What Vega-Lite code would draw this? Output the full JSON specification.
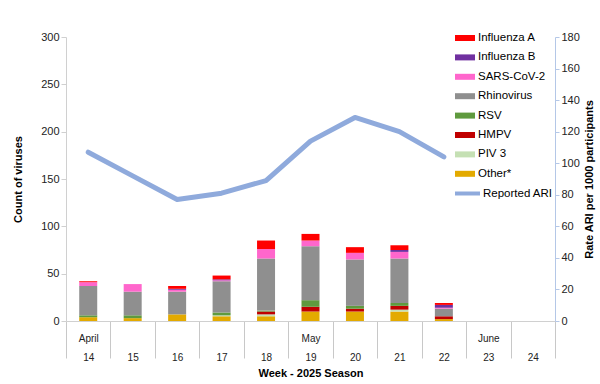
{
  "$schema": "https://vega.github.io/schema/vega-lite/v6.json",
  "width": 489,
  "height": 284,
  "autosize": "none",
  "padding": {"left": 66, "top": 37, "right": 45, "bottom": 63},
  "background": "white",
  "config": {
    "view": {"stroke": null},
    "font": "Liberation Sans",
    "axis": {"labelFont": "Liberation Sans", "titleFont": "Liberation Sans", "labelColor": "#222222", "titleColor": "#000000", "grid": false},
    "legend": {"labelFont": "Liberation Sans"}
  },
  "datasets": {
    "viruses": [
      {"week": "14", "virus": "Other*", "count": 4},
      {"week": "14", "virus": "RSV", "count": 2},
      {"week": "14", "virus": "Rhinovirus", "count": 31},
      {"week": "14", "virus": "SARS-CoV-2", "count": 4},
      {"week": "14", "virus": "Influenza A", "count": 1},
      {"week": "15", "virus": "Other*", "count": 3},
      {"week": "15", "virus": "RSV", "count": 3},
      {"week": "15", "virus": "Rhinovirus", "count": 25},
      {"week": "15", "virus": "SARS-CoV-2", "count": 8},
      {"week": "16", "virus": "Other*", "count": 7},
      {"week": "16", "virus": "Rhinovirus", "count": 24},
      {"week": "16", "virus": "SARS-CoV-2", "count": 2},
      {"week": "16", "virus": "Influenza B", "count": 1},
      {"week": "16", "virus": "Influenza A", "count": 3},
      {"week": "17", "virus": "Other*", "count": 5},
      {"week": "17", "virus": "PIV 3", "count": 1},
      {"week": "17", "virus": "RSV", "count": 3},
      {"week": "17", "virus": "Rhinovirus", "count": 33},
      {"week": "17", "virus": "SARS-CoV-2", "count": 1},
      {"week": "17", "virus": "Influenza B", "count": 1},
      {"week": "17", "virus": "Influenza A", "count": 4},
      {"week": "18", "virus": "Other*", "count": 5},
      {"week": "18", "virus": "PIV 3", "count": 2},
      {"week": "18", "virus": "HMPV", "count": 3},
      {"week": "18", "virus": "RSV", "count": 1},
      {"week": "18", "virus": "Rhinovirus", "count": 55},
      {"week": "18", "virus": "SARS-CoV-2", "count": 10},
      {"week": "18", "virus": "Influenza A", "count": 9},
      {"week": "19", "virus": "Other*", "count": 10},
      {"week": "19", "virus": "HMPV", "count": 5},
      {"week": "19", "virus": "RSV", "count": 7},
      {"week": "19", "virus": "Rhinovirus", "count": 57},
      {"week": "19", "virus": "SARS-CoV-2", "count": 6},
      {"week": "19", "virus": "Influenza A", "count": 7},
      {"week": "20", "virus": "Other*", "count": 10},
      {"week": "20", "virus": "HMPV", "count": 3},
      {"week": "20", "virus": "RSV", "count": 3},
      {"week": "20", "virus": "Rhinovirus", "count": 49},
      {"week": "20", "virus": "SARS-CoV-2", "count": 7},
      {"week": "20", "virus": "Influenza A", "count": 6},
      {"week": "21", "virus": "Other*", "count": 10},
      {"week": "21", "virus": "PIV 3", "count": 2},
      {"week": "21", "virus": "HMPV", "count": 4},
      {"week": "21", "virus": "RSV", "count": 3},
      {"week": "21", "virus": "Rhinovirus", "count": 47},
      {"week": "21", "virus": "SARS-CoV-2", "count": 7},
      {"week": "21", "virus": "Influenza B", "count": 2},
      {"week": "21", "virus": "Influenza A", "count": 5},
      {"week": "22", "virus": "Other*", "count": 2},
      {"week": "22", "virus": "HMPV", "count": 3},
      {"week": "22", "virus": "Rhinovirus", "count": 8},
      {"week": "22", "virus": "SARS-CoV-2", "count": 1},
      {"week": "22", "virus": "Influenza B", "count": 3},
      {"week": "22", "virus": "Influenza A", "count": 2}
    ],
    "ari": [
      {"week": "14", "series": "Reported ARI", "rate": 107},
      {"week": "15", "series": "Reported ARI", "rate": 92},
      {"week": "16", "series": "Reported ARI", "rate": 77},
      {"week": "17", "series": "Reported ARI", "rate": 81},
      {"week": "18", "series": "Reported ARI", "rate": 89},
      {"week": "19", "series": "Reported ARI", "rate": 114},
      {"week": "20", "series": "Reported ARI", "rate": 129},
      {"week": "21", "series": "Reported ARI", "rate": 120},
      {"week": "22", "series": "Reported ARI", "rate": 104}
    ]
  },
  "encoding": {
    "x": {
      "field": "week",
      "type": "nominal",
      "scale": {"type": "band", "domain": ["14","15","16","17","18","19","20","21","22","23","24"], "paddingInner": 0, "paddingOuter": 0},
      "axis": {
        "title": "Week - 2025 Season",
        "titleFontSize": 11,
        "titleFontWeight": "bold",
        "titlePadding": 5,
        "labelAngle": 0,
        "labelFontSize": 10,
        "labelLineHeight": 19,
        "labelPadding": -25,
        "labelBaseline": "top",
        "labelExpr": "datum.value == '14' ? ['April', '14'] : datum.value == '19' ? ['May', '19'] : datum.value == '23' ? ['June', '23'] : ['', datum.value]",
        "tickBand": "extent",
        "tickSize": 37,
        "tickColor": "#c8c8c8",
        "domainColor": "#d0d0d0"
      }
    }
  },
  "layer": [
    {
      "data": {"name": "viruses"},
      "transform": [
        {"calculate": "indexof(['Other*','PIV 3','HMPV','RSV','Rhinovirus','SARS-CoV-2','Influenza B','Influenza A'], datum.virus)", "as": "stackorder"}
      ],
      "mark": {"type": "bar", "width": 18},
      "encoding": {
        "y": {
          "field": "count",
          "type": "quantitative",
          "stack": "zero",
          "scale": {"domain": [0, 300], "nice": false},
          "axis": {
            "title": "Count of viruses",
            "titleFontSize": 11,
            "titleFontWeight": "bold",
            "titlePadding": 17,
            "values": [0, 50, 100, 150, 200, 250, 300],
            "labelFontSize": 11,
            "tickSize": 5,
            "tickColor": "#d0d0d0",
            "domainColor": "#d0d0d0"
          }
        },
        "fill": {
          "field": "virus",
          "type": "nominal",
          "scale": {
            "domain": ["Influenza A", "Influenza B", "SARS-CoV-2", "Rhinovirus", "RSV", "HMPV", "PIV 3", "Other*"],
            "range": ["#ff0000", "#7030a0", "#ff66cc", "#8f8f8f", "#5f9a3e", "#c00000", "#c5e0b4", "#e3aa00"]
          },
          "legend": {
            "title": null,
            "orient": "none",
            "legendX": 389,
            "legendY": -9,
            "padding": 0,
            "symbolType": "M-1,-0.3H1V0.3H-1Z",
            "symbolSize": 400,
            "symbolStrokeWidth": 0,
            "rowPadding": 3.4,
            "labelOffset": 3,
            "labelFontSize": 11.5,
            "labelColor": "#000000"
          }
        },
        "order": {"field": "stackorder", "type": "quantitative"}
      }
    },
    {
      "data": {"name": "ari"},
      "mark": {"type": "line", "strokeWidth": 5, "strokeJoin": "round", "strokeCap": "round"},
      "encoding": {
        "y": {
          "field": "rate",
          "type": "quantitative",
          "scale": {"domain": [0, 180], "nice": false},
          "axis": {
            "orient": "right",
            "title": "Rate ARI  per 1000 participants",
            "titleFontSize": 11,
            "titleFontWeight": "bold",
            "titleAngle": 270,
            "titleBaseline": "top",
            "titlePadding": 4,
            "values": [0, 20, 40, 60, 80, 100, 120, 140, 160, 180],
            "labelFontSize": 11,
            "tickSize": 4,
            "tickColor": "#b4c7e7",
            "domainColor": "#b4c7e7"
          }
        },
        "stroke": {
          "field": "series",
          "type": "nominal",
          "scale": {"domain": ["Reported ARI"], "range": ["#8faadc"]},
          "legend": {
            "title": null,
            "orient": "none",
            "legendX": 387,
            "legendY": 142,
            "padding": 0,
            "symbolType": "stroke",
            "symbolSize": 625,
            "symbolStrokeWidth": 4,
            "labelOffset": 1,
            "labelFontSize": 11.5,
            "labelColor": "#000000"
          }
        }
      }
    }
  ],
  "resolve": {"scale": {"y": "independent"}}
}
